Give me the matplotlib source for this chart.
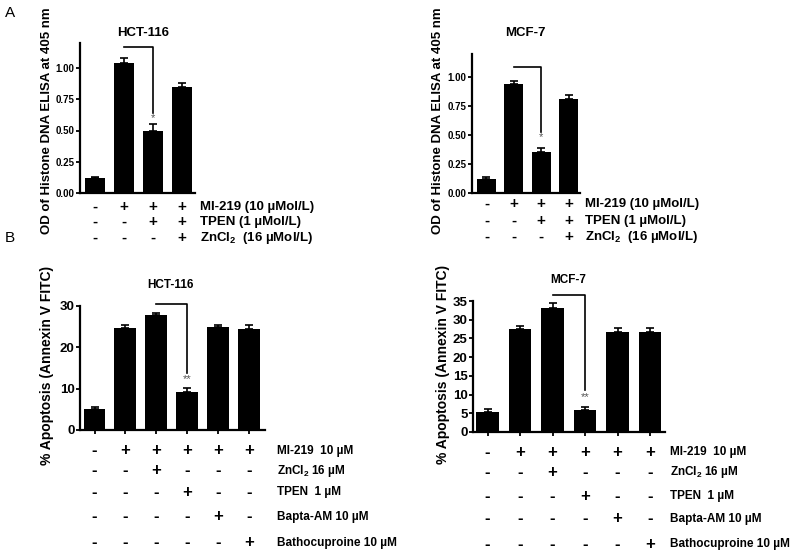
import matplotlib
matplotlib.use("Agg")
import matplotlib.pyplot as plt
from matplotlib.transforms import blended_transform_factory

plt.rcParams['font.family'] = ['Liberation Sans', 'DejaVu Sans']
plt.rcParams['mathtext.fontset'] = 'custom'
plt.rcParams['mathtext.rm'] = 'Liberation Sans:bold'
plt.rcParams['mathtext.bf'] = 'Liberation Sans:bold'

# ---------------- data ----------------
a_hct_vals = [0.12, 1.04, 0.50, 0.85]
a_hct_err = [0.01, 0.04, 0.05, 0.03]
a_mcf_vals = [0.12, 0.94, 0.35, 0.81]
a_mcf_err = [0.02, 0.025, 0.035, 0.035]
b_hct_vals = [5.0, 24.7, 27.8, 9.3, 25.0, 24.4]
b_hct_err = [0.5, 0.7, 0.5, 0.8, 0.3, 1.0]
b_mcf_vals = [5.4, 27.6, 33.2, 5.8, 26.8, 26.6]
b_mcf_err = [0.7, 0.7, 1.3, 0.9, 1.0, 1.2]

a_row_labels_hct = ['MI-219 (10 µMol/L)', 'TPEN (1 µMol/L)', r'ZnCl$_{2}$  (16 µMol/L)']
a_row_labels_mcf = ['MI-219 (10 µMol/L)', 'TPEN (1 µMol/L)', r'ZnCl$_{2}$  (16 µMol/L)']
a_signs = [['-', '+', '+', '+'],
           ['-', '-', '+', '+'],
           ['-', '-', '-', '+']]
b_row_labels = ['MI-219  10 µM', r'ZnCl$_{2}$ 16 µM', 'TPEN  1 µM', 'Bapta-AM 10 µM', 'Bathocuproine 10 µM']
b_signs = [['-', '+', '+', '+', '+', '+'],
           ['-', '-', '+', '-', '-', '-'],
           ['-', '-', '-', '+', '-', '-'],
           ['-', '-', '-', '-', '+', '-'],
           ['-', '-', '-', '-', '-', '+']]

a_yticks = [0.0, 0.25, 0.5, 0.75, 1.0]
a_yticklabels = ['0.00', '0.25', '0.50', '0.75', '1.00']
b_hct_yticks = [0, 10, 20, 30]
b_mcf_yticks = [0, 5, 10, 15, 20, 25, 30, 35]

W, H = 800, 558
fig = plt.figure(figsize=(8, 5.58), dpi=100)


def add_ax(left, right, top, bottom):
    return fig.add_axes([left / W, 1 - bottom / H, (right - left) / W, (bottom - top) / H])


def style(ax, xticks, labelsize=7):
    for s in ['top', 'right']:
        ax.spines[s].set_visible(False)
    for s in ['left', 'bottom']:
        ax.spines[s].set_linewidth(1.6)
    ax.tick_params(axis='y', direction='out', length=3, width=1.3, labelsize=labelsize, pad=1)
    if xticks:
        ax.tick_params(axis='x', direction='out', length=3, width=1.3, labelbottom=False)
    else:
        ax.tick_params(axis='x', length=0, labelbottom=False)
    for lab in ax.get_yticklabels():
        lab.set_fontweight('bold')


def bars(ax, vals, errs, width):
    x = list(range(len(vals)))
    ax.bar(x, vals, width=width, color='black', zorder=2)
    ax.errorbar(x, vals, yerr=[[0] * len(errs), errs], fmt='none', ecolor='black',
                elinewidth=1.2, capsize=3, capthick=1.2, zorder=3)
    ax.set_xticks(x)
    return x


def table(ax, signs, labels, rows_y, label_x, fs_sign=11, fs_lab=9):
    tr = blended_transform_factory(ax.transData, fig.transFigure)
    for r, row in enumerate(signs):
        y = 1 - rows_y[r] / H
        for i, s in enumerate(row):
            ax.text(i, y, s, transform=tr, ha='center', va='center',
                    fontsize=fs_sign, fontweight='bold', clip_on=False)
        fig.text(label_x / W, y, labels[r], ha='left', va='center',
                 fontsize=fs_lab, fontweight='bold')


def bracket(ax, x0, x1, ytop, ybot, star, ystar, fs=8):
    ax.plot([x0, x1, x1], [ytop, ytop, ybot], color='black', lw=1.2, clip_on=False, zorder=4)
    ax.text(x1, ystar, star, ha='center', va='center', fontsize=fs, color='#555555', zorder=4)


# ---------- Panel A, HCT-116 ----------
ax1 = add_ax(80, 195, 43, 193)
bars(ax1, a_hct_vals, a_hct_err, 0.69)
ax1.set_xlim(-0.53, 3.45)
ax1.set_ylim(0, 1.2)
ax1.set_yticks(a_yticks)
ax1.set_yticklabels(a_yticklabels)
style(ax1, False)
bracket(ax1, 1, 2, 1.17, 0.64, '*', 0.60)
table(ax1, a_signs, a_row_labels_hct, [207, 222, 238], 200, fs_lab=9.5)
fig.text(143 / W, 1 - 33 / H, 'HCT-116', ha='center', va='center', fontsize=9.5, fontweight='bold')
fig.text(47 / W, 1 - 121 / H, 'OD of Histone DNA ELISA at 405 nm', rotation=90,
         ha='center', va='center', fontsize=9.5, fontweight='bold')

# ---------- Panel A, MCF-7 ----------
ax2 = add_ax(472, 580, 54, 193)
bars(ax2, a_mcf_vals, a_mcf_err, 0.70)
ax2.set_xlim(-0.53, 3.42)
ax2.set_ylim(0, 1.2)
ax2.set_yticks(a_yticks)
ax2.set_yticklabels(a_yticklabels)
style(ax2, False)
bracket(ax2, 1, 2, 1.09, 0.53, '*', 0.48)
table(ax2, a_signs, a_row_labels_mcf, [204, 221, 237], 585, fs_lab=9.5)
fig.text(525 / W, 1 - 33 / H, 'MCF-7', ha='center', va='center', fontsize=9.5, fontweight='bold')
fig.text(438 / W, 1 - 121 / H, 'OD of Histone DNA ELISA at 405 nm', rotation=90,
         ha='center', va='center', fontsize=9.5, fontweight='bold')

# ---------- Panel B, HCT-116 ----------
ax3 = add_ax(80, 265, 306, 430)
bars(ax3, b_hct_vals, b_hct_err, 0.71)
ax3.set_xlim(-0.47, 5.52)
ax3.set_ylim(0, 30)
ax3.set_yticks(b_hct_yticks)
style(ax3, True, labelsize=9.5)
bracket(ax3, 2, 3, 30.5, 13.8, '**', 12.4)
table(ax3, b_signs, b_row_labels, [451, 471, 492, 517, 543], 277, fs_sign=12, fs_lab=8.5)
fig.text(170 / W, 1 - 285 / H, 'HCT-116', ha='center', va='center', fontsize=8.5, fontweight='bold')
fig.text(47 / W, 1 - 365 / H, '% Apoptosis (Annexin V FITC)', rotation=90,
         ha='center', va='center', fontsize=10, fontweight='bold')

# ---------- Panel B, MCF-7 ----------
ax4 = add_ax(473, 665, 301, 432)
bars(ax4, b_mcf_vals, b_mcf_err, 0.69)
ax4.set_xlim(-0.45, 5.46)
ax4.set_ylim(0, 35)
ax4.set_yticks(b_mcf_yticks)
style(ax4, True, labelsize=9.5)
bracket(ax4, 2, 3, 36.6, 11.2, '**', 9.4)
table(ax4, b_signs, b_row_labels, [452, 472, 496, 519, 544], 670, fs_sign=12, fs_lab=8.5)
fig.text(568 / W, 1 - 280 / H, 'MCF-7', ha='center', va='center', fontsize=8.5, fontweight='bold')
fig.text(443 / W, 1 - 364 / H, '% Apoptosis (Annexin V FITC)', rotation=90,
         ha='center', va='center', fontsize=10, fontweight='bold')

# panel letters
fig.text(10 / W, 1 - 13 / H, 'A', ha='center', va='center', fontsize=11)
fig.text(10 / W, 1 - 238 / H, 'B', ha='center', va='center', fontsize=11)

fig.savefig('out.png', dpi=100)
